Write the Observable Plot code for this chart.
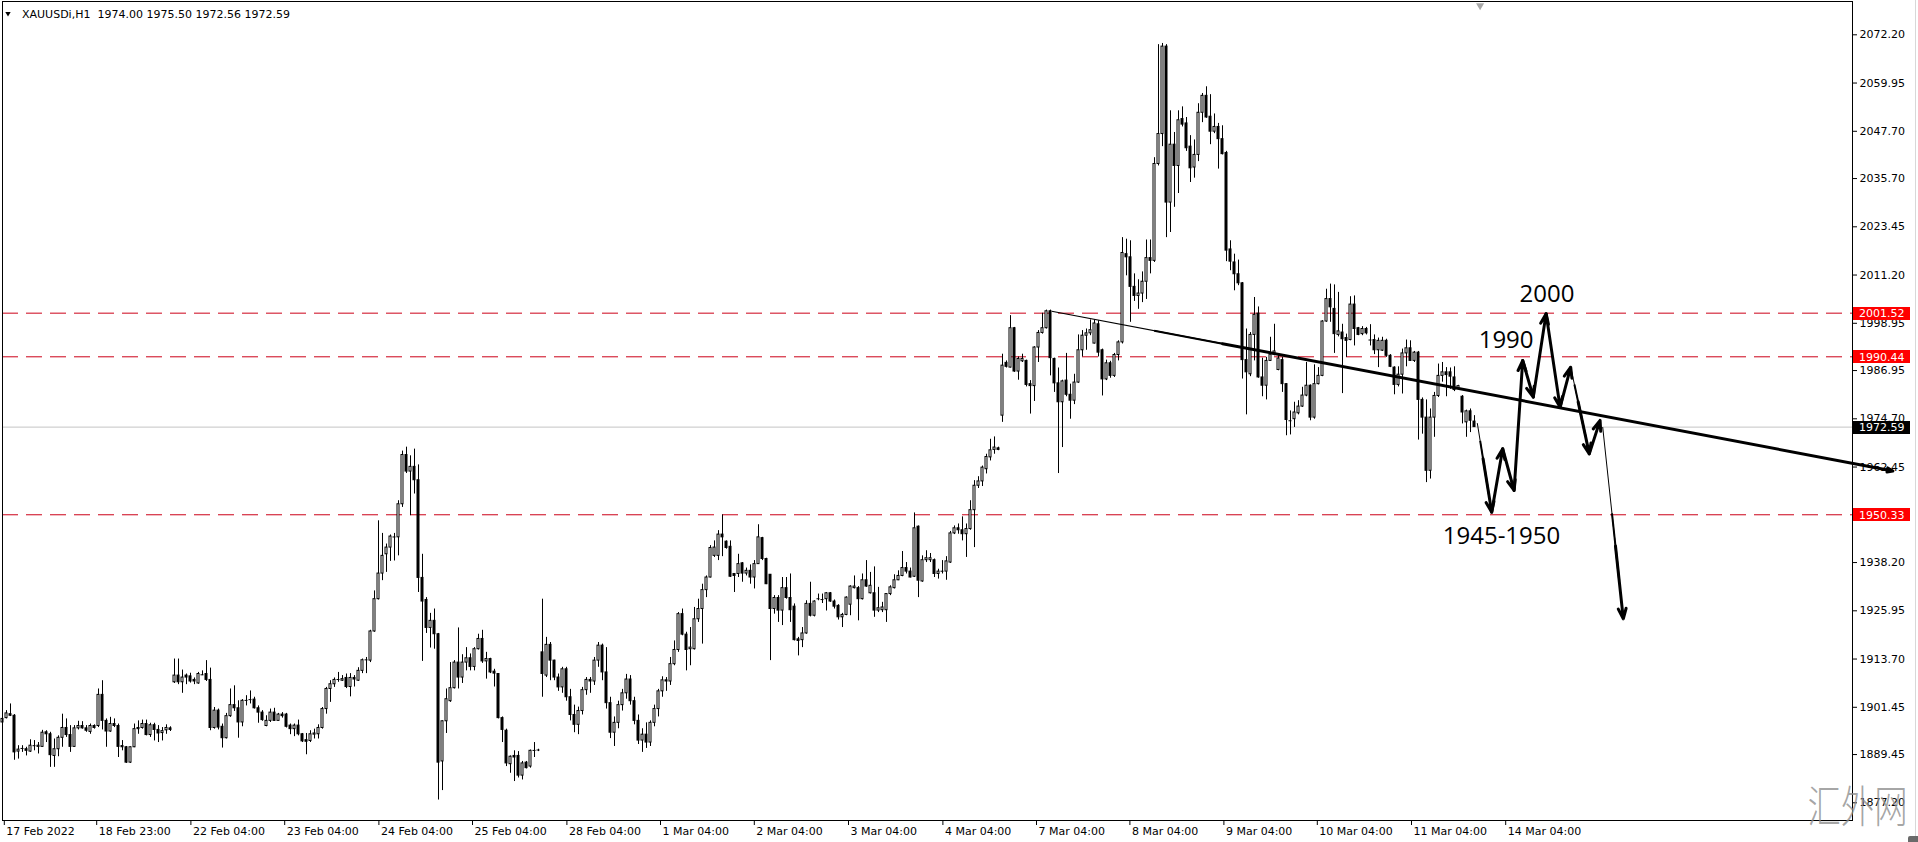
<!DOCTYPE html>
<html>
<head>
<meta charset="utf-8">
<script src="https://cdn.jsdelivr.net/npm/d3@7"></script>
<script src="https://cdn.jsdelivr.net/npm/@observablehq/plot@0.6"></script>
<style>
html,body{margin:0;padding:0;background:#fff;overflow:hidden;}
#chart{width:1918px;height:842px;}
</style>
</head>
<body>
<div id="chart"></div>
<script>
// ---------- data (hourly OHLC rows: open, high, low, close) ----------
const symbolName = "XAUUSDi,H1";
const headerValues = "1974.00 1975.50 1972.56 1972.59";

const week17Feb = [
[1897.6,1899.2,1897.0,1898.5],[1898.7,1900.6,1898.5,1899.9],[1899.7,1902.3,1899.1,1899.3],[1899.3,1899.6,1888.0,1890.0],
[1890.2,1891.7,1888.3,1890.7],[1890.9,1891.7,1890.0,1891.0],[1890.8,1891.3,1889.1,1890.4],[1890.2,1893.2,1890.0,1891.7],
[1891.6,1893.0,1890.4,1891.7],[1891.4,1892.5,1889.6,1891.7],[1891.4,1895.6,1891.3,1895.0],[1895.1,1895.5,1892.5,1894.6],
[1894.6,1895.1,1886.2,1889.3],[1889.1,1893.4,1886.2,1890.8],[1890.8,1894.2,1888.9,1893.7],[1893.7,1899.7,1891.3,1896.2],
[1896.2,1898.5,1893.8,1894.4],[1894.4,1896.8,1890.0,1891.4],[1891.4,1896.8,1891.3,1896.1],[1896.1,1897.9,1895.7,1896.7],
[1896.7,1897.8,1895.9,1896.1],[1896.1,1896.8,1895.1,1895.5],[1895.2,1897.2,1894.6,1896.7],[1896.7,1897.0,1895.9,1896.2],
[1896.7,1906.1,1896.3,1904.6],[1904.6,1908.2,1895.7,1898.0],[1898.0,1898.5,1891.3,1895.3],[1895.3,1898.9,1895.1,1897.2],
[1897.2,1898.5,1896.3,1896.7],[1896.7,1897.2,1888.7,1891.4],[1891.6,1893.0,1890.4,1891.3],[1891.3,1891.5,1887.2,1887.4],
[1887.4,1891.4,1887.2,1891.3],[1891.3,1897.2,1891.2,1895.9],[1895.9,1898.0,1894.6,1896.2],[1896.2,1898.2,1895.9,1897.2],
[1897.2,1898.2,1894.2,1894.4],[1894.4,1897.4,1893.8,1896.9],[1896.9,1897.4,1892.9,1895.7],[1895.7,1896.8,1892.5,1894.8],
[1894.9,1896.3,1892.9,1895.4],[1895.6,1897.0,1894.6,1896.2],[1896.1,1896.5,1895.3,1895.7]
];

const week22Feb = [
[1907.8,1913.7,1907.5,1909.5],[1909.5,1913.7,1907.2,1907.8],[1907.8,1910.9,1905.0,1909.0],[1909.5,1909.9,1907.2,1909.0],
[1909.3,1910.1,1907.6,1908.0],[1908.4,1908.9,1907.2,1908.0],[1907.5,1910.3,1907.3,1909.9],[1909.9,1910.7,1909.5,1909.7],
[1909.9,1913.3,1908.0,1908.4],[1908.4,1911.4,1895.5,1896.2],[1896.2,1901.4,1895.9,1900.6],[1900.6,1901.0,1895.7,1896.3],
[1896.5,1897.2,1891.1,1893.6],[1893.6,1899.9,1893.4,1899.2],[1899.2,1906.1,1898.9,1902.0],[1902.0,1906.9,1900.4,1901.2],
[1901.2,1903.1,1893.6,1897.6],[1897.6,1903.4,1896.5,1903.1],[1903.1,1904.4,1901.8,1903.2],[1903.2,1905.6,1902.3,1903.4],
[1903.4,1904.0,1901.0,1901.2],[1901.2,1901.8,1897.4,1900.1],[1900.1,1900.6,1897.9,1898.2],[1896.7,1899.3,1896.5,1898.0],
[1898.0,1901.0,1897.6,1900.1],[1900.1,1901.2,1897.9,1898.0],[1898.0,1899.9,1897.9,1899.6],[1899.6,1900.1,1898.7,1899.2],
[1899.6,1899.9,1896.2,1896.5],[1896.8,1897.2,1894.5,1895.9],[1895.9,1897.2,1894.0,1896.8],[1896.8,1898.2,1894.2,1894.6],
[1894.6,1894.8,1892.5,1892.8],[1893.1,1894.8,1889.4,1892.7],[1892.9,1895.5,1892.5,1894.6],[1894.5,1895.9,1893.4,1894.8],
[1894.6,1897.0,1893.4,1896.2],[1896.2,1901.4,1895.9,1901.0],[1901.0,1906.5,1899.7,1906.1],[1906.1,1908.2,1902.7,1907.3],
[1907.3,1908.9,1906.5,1908.4],[1908.4,1910.3,1907.8,1908.5],[1908.2,1909.5,1908.0,1908.6],[1908.9,1909.9,1906.2,1906.6],
[1906.6,1910.0,1904.1,1908.9],[1908.9,1909.5,1906.6,1908.5],[1908.2,1911.5,1908.0,1910.7],[1910.7,1913.7,1910.0,1913.4],
[1913.4,1914.1,1910.0,1913.5],[1913.3,1921.0,1912.8,1920.7],[1920.7,1931.0,1920.5,1928.9],[1928.9,1948.8,1928.7,1935.4],
[1935.4,1945.6,1933.6,1939.9],[1940.3,1942.9,1935.7,1942.0],[1942.0,1945.2,1938.5,1944.8],[1944.8,1945.6,1938.6,1944.7],
[1944.6,1953.9,1939.9,1953.0],[1953.0,1966.5,1952.2,1965.5],[1965.5,1967.5,1960.8,1961.3],[1961.3,1965.3,1950.1,1962.5],
[1962.5,1967.0,1955.6,1959.1],[1959.1,1963.0,1930.6,1934.3],[1934.3,1940.3,1913.1,1928.3],[1928.7,1929.3,1920.2,1921.6],
[1921.6,1925.3,1916.5,1923.4],[1923.4,1926.4,1916.2,1920.0],[1920.0,1920.2,1877.9,1887.4],[1887.7,1898.0,1880.3,1897.9],
[1897.9,1906.1,1894.8,1903.5],[1903.0,1912.8,1902.7,1906.3],[1906.3,1913.3,1906.1,1912.8],[1912.8,1921.6,1906.1,1909.0],
[1909.0,1914.8,1907.5,1912.8],[1912.8,1916.6,1910.7,1913.9],[1913.9,1915.0,1910.7,1911.7],[1911.7,1916.6,1910.7,1916.2],
[1916.2,1920.0,1916.0,1918.8],[1918.8,1921.0,1912.6,1913.1],[1913.1,1915.4,1908.6,1913.7],[1913.7,1913.9,1910.0,1910.3],
[1910.5,1911.1,1906.6,1910.0],[1909.9,1910.0,1898.5,1898.7],[1898.7,1899.0,1892.5,1895.7],[1895.5,1895.9,1886.4,1887.2],
[1887.0,1889.1,1884.7,1888.9],[1889.1,1890.4,1882.6,1888.7],[1889.1,1890.2,1883.5,1884.1],[1884.1,1887.7,1883.0,1887.2],
[1887.4,1887.7,1885.8,1886.0],[1886.4,1890.6,1886.0,1890.4],[1890.4,1892.5,1888.7,1890.5],[1890.5,1890.8,1890.2,1890.6]
];

const week28Feb = [
[1915.4,1928.9,1904.0,1909.9],[1909.5,1919.2,1909.0,1917.3],[1917.3,1917.9,1908.2,1913.3],[1913.3,1913.4,1908.2,1909.0],
[1909.0,1909.9,1905.5,1906.5],[1906.5,1911.6,1905.0,1911.1],[1911.1,1911.6,1903.0,1904.0],[1904.0,1906.0,1898.0,1899.5],
[1899.5,1902.0,1895.0,1897.0],[1897.0,1901.5,1894.5,1900.5],[1900.5,1906.5,1899.5,1905.8],[1905.8,1909.0,1904.5,1908.4],
[1908.4,1909.0,1905.0,1908.0],[1908.0,1914.1,1907.0,1913.3],[1913.3,1917.9,1911.6,1917.1],[1917.1,1917.5,1908.2,1910.3],
[1910.3,1916.6,1901.0,1902.5],[1902.5,1904.0,1893.5,1895.0],[1895.0,1899.0,1891.5,1897.5],[1897.5,1903.0,1896.0,1902.0],
[1902.0,1906.0,1900.5,1905.0],[1905.0,1909.8,1903.5,1908.5],[1908.5,1909.5,1902.0,1903.0],[1903.0,1904.0,1897.0,1898.0],
[1898.0,1899.5,1892.0,1893.0],[1893.0,1896.0,1890.0,1894.5],[1894.5,1897.5,1891.0,1892.5],[1892.5,1898.0,1891.5,1897.5],
[1897.5,1902.0,1896.5,1901.0],[1901.0,1906.0,1899.0,1905.5],[1905.5,1909.2,1904.0,1908.3],[1908.3,1909.0,1905.5,1908.0],
[1908.0,1914.1,1907.0,1912.4],[1912.4,1918.3,1912.0,1916.0],[1916.0,1925.5,1915.4,1925.1],[1925.1,1926.4,1919.6,1919.9],
[1919.9,1920.5,1910.7,1916.0],[1916.2,1921.7,1912.0,1916.6],[1916.2,1926.8,1916.0,1923.8],[1923.8,1928.9,1923.0,1926.4],
[1926.4,1932.7,1917.5,1931.2],[1931.2,1934.8,1929.3,1934.4],[1934.4,1942.5,1934.3,1941.9],[1939.9,1943.7,1939.5,1942.0],
[1939.9,1946.3,1938.7,1945.3],[1945.3,1950.3,1939.7,1944.6],[1943.5,1943.7,1941.6,1941.9],[1942.2,1943.7,1934.4,1934.6],
[1935.3,1935.4,1930.6,1934.8],[1935.3,1940.3,1934.4,1937.8],[1938.0,1938.2,1933.2,1935.4],[1935.4,1936.8,1934.8,1936.1],
[1936.1,1937.6,1932.7,1934.4],[1934.4,1938.7,1931.5,1937.8],[1937.8,1947.8,1937.8,1944.6],[1944.4,1944.6,1938.7,1939.1],
[1939.1,1939.3,1932.6,1932.7],[1935.1,1935.1,1913.3,1926.4],[1926.4,1929.8,1925.1,1929.2],[1929.2,1929.8,1923.0,1926.0],
[1926.0,1934.4,1922.2,1931.7],[1931.7,1934.4,1928.9,1929.2],[1929.2,1935.3,1923.0,1926.1],[1927.0,1927.7,1918.3,1918.5],
[1918.7,1919.2,1914.5,1918.3],[1918.5,1921.7,1916.6,1920.2],[1920.2,1928.5,1920.0,1927.7],[1927.7,1933.2,1924.4,1924.7],
[1924.7,1928.5,1924.4,1928.3],[1928.8,1930.2,1928.5,1929.0],[1929.0,1930.2,1927.8,1928.8],[1928.9,1930.6,1925.9,1930.4],
[1930.4,1930.6,1928.1,1928.3],[1928.3,1928.7,1926.4,1927.0],[1927.2,1927.5,1923.6,1924.3],[1924.3,1925.3,1921.7,1924.9],
[1924.9,1929.5,1924.7,1929.3],[1927.5,1932.3,1924.7,1932.1],[1931.7,1934.8,1931.5,1932.1],[1931.7,1932.1,1923.4,1928.9],
[1928.9,1935.3,1928.7,1933.7],[1933.7,1938.7,1931.9,1932.1],[1930.4,1935.7,1930.2,1932.3],[1930.4,1937.1,1924.3,1926.0],
[1926.0,1931.9,1925.5,1926.6],[1926.1,1928.1,1925.5,1926.8],[1926.1,1930.2,1923.0,1930.2],[1930.2,1932.3,1929.8,1931.9],
[1931.7,1935.1,1931.5,1933.7],[1933.7,1936.1,1933.6,1934.8],[1934.8,1941.0,1934.6,1936.8],[1936.8,1938.2,1935.3,1935.9],
[1935.9,1936.8,1934.3,1934.4],[1934.6,1950.8,1934.4,1946.9],[1947.3,1947.5,1929.3,1933.6],[1933.4,1939.9,1933.2,1938.8],
[1938.8,1941.2,1938.2,1939.3],[1938.8,1940.5,1938.2,1939.3],[1938.8,1939.1,1934.4,1935.3],[1935.3,1936.5,1934.0,1935.9],
[1935.9,1938.7,1935.3,1936.0],[1935.9,1939.7,1933.7,1938.5],[1938.2,1946.1,1938.0,1945.6],[1945.6,1947.5,1945.3,1946.9],
[1946.9,1948.0,1945.4,1946.4],[1946.4,1949.8,1943.7,1945.4],[1945.4,1948.0,1939.5,1946.7],[1946.7,1953.9,1946.4,1951.5],
[1951.5,1959.0,1942.0,1957.7],[1957.7,1960.0,1957.0,1958.8],[1958.8,1962.7,1957.5,1962.3],[1961.9,1965.7,1960.7,1965.0],
[1964.9,1969.5,1964.0,1966.7],[1966.8,1970.1,1965.7,1967.4],[1967.2,1967.5,1966.6,1966.8]
];

const week7Mar = [
[1975.5,1991.1,1973.8,1988.2],[1988.9,1989.4,1987.6,1987.9],[1987.7,2000.9,1987.6,1997.7],[1997.7,1997.9,1986.5,1986.7],
[1986.7,1990.4,1984.5,1989.9],[1989.3,1991.1,1989.0,1989.9],[1989.4,1989.6,1982.8,1983.3],[1983.5,1984.4,1975.9,1983.0],
[1983.0,1993.0,1979.1,1992.8],[1992.8,1997.1,1989.0,1996.5],[1996.5,2001.5,1996.2,1997.7],[1997.7,2002.3,1997.5,2002.0],
[2002.0,2002.3,1985.6,1990.1],[1989.9,1990.1,1981.4,1983.7],[1983.7,1987.6,1960.8,1978.9],[1978.9,1984.5,1967.4,1984.2],
[1984.4,1991.3,1980.3,1980.8],[1980.8,1983.5,1974.6,1979.3],[1979.3,1986.0,1978.3,1983.9],[1983.9,1996.0,1983.7,1992.1],
[1992.1,1997.1,1990.4,1995.8],[1995.8,1997.5,1992.1,1996.4],[1996.4,1999.8,1995.8,1997.2],[1993.8,1999.8,1993.7,1998.9],
[1998.7,1999.6,1990.4,1991.5],[1992.1,1992.4,1980.5,1984.7],[1984.7,1989.6,1984.4,1988.8],[1988.8,1989.3,1985.0,1985.6],
[1985.6,1991.3,1985.2,1990.9],[1990.9,1994.5,1989.4,1994.1],[1994.1,2020.7,1993.7,2016.8],[2016.5,2020.3,2011.0,2015.7],
[2015.7,2019.9,1999.2,2008.2],[2008.2,2011.5,2004.5,2005.9],[2005.9,2010.0,2002.5,2006.5],[2006.5,2012.0,2004.2,2009.5],
[2009.5,2020.1,2005.0,2015.5],[2015.5,2020.1,2011.5,2014.8],[2014.8,2041.0,2014.4,2039.4],[2039.4,2069.7,2038.9,2047.0],
[2047.0,2070.0,2043.8,2069.2],[2069.2,2069.7,2020.7,2029.6],[2029.6,2052.9,2022.0,2044.3],[2044.3,2047.4,2028.4,2038.9],
[2038.9,2052.9,2031.9,2050.5],[2050.8,2053.9,2048.8,2049.4],[2049.7,2051.2,2042.6,2043.4],[2043.8,2046.6,2034.7,2038.3],
[2038.5,2045.5,2035.8,2041.7],[2041.7,2054.7,2040.0,2052.4],[2052.4,2057.3,2049.9,2056.7],[2056.7,2059.0,2051.0,2051.2],
[2051.4,2057.0,2044.3,2047.6],[2047.6,2052.1,2047.1,2048.8],[2048.8,2049.7,2038.1,2045.7],[2045.7,2049.1,2041.7,2041.9],
[2042.2,2042.6,2014.6,2017.4],[2017.7,2019.9,2012.3,2014.6],[2014.4,2016.5,2007.2,2011.4],[2011.4,2015.0,2008.5,2009.1],
[2009.1,2009.3,1984.8,1989.6],[1989.6,1997.5,1975.7,1986.5],[1986.0,1996.6,1985.4,1996.0],[1996.0,2005.5,1989.4,2001.1],
[2001.4,2003.1,1985.0,1985.2],[1985.2,1990.1,1980.3,1983.1],[1983.1,1990.3,1979.5,1989.4],[1989.4,1995.4,1989.3,1991.0],
[1991.0,1998.7,1990.7,1991.8],[1987.1,1991.1,1986.9,1990.0],[1989.6,1990.3,1981.4,1983.5],[1983.5,1983.6,1970.4,1974.4],
[1974.4,1976.7,1970.6,1974.2],[1974.6,1978.9,1972.5,1976.3],[1976.1,1979.3,1975.7,1977.8],[1977.8,1982.7,1977.6,1980.6],
[1980.6,1989.0,1980.3,1983.1],[1983.1,1983.3,1974.2,1975.0],[1975.0,1988.4,1974.6,1983.5],[1983.5,1987.7,1983.3,1985.6],
[1985.6,1999.6,1985.4,1999.4],[1999.4,2007.6,1999.2,2005.1],[2005.1,2008.9,1999.2,2003.0],[2002.6,2008.7,1991.3,1996.2],
[1996.0,2006.8,1995.5,1996.9],[1996.6,1998.7,1981.1,1994.9],[1995.2,1996.2,1990.3,1994.5],[1994.7,2005.7,1994.5,2003.7],
[2003.7,2005.9,1993.2,1997.5],[1997.7,1997.9,1995.8,1996.0],[1996.2,1998.1,1995.8,1997.5],[1997.5,1997.9,1996.0,1996.4],
[1994.9,1998.6,1993.2,1994.7],[1994.7,1996.0,1991.0,1992.1],[1992.1,1995.2,1987.7,1994.5],[1992.0,1995.4,1991.8,1994.5],
[1994.5,1994.9,1990.3,1990.7],[1990.7,1991.0,1987.7,1987.9],[1987.7,1987.9,1980.8,1983.3],[1983.3,1987.9,1982.8,1985.9],
[1985.9,1992.4,1981.0,1991.3],[1991.3,1994.7,1987.9,1992.6],[1992.6,1994.5,1989.3,1989.4],[1989.4,1991.8,1989.0,1991.5],
[1991.5,1991.8,1969.3,1979.5],[1979.5,1980.0,1970.8,1975.0],[1975.0,1979.5,1958.5,1961.5],[1961.5,1977.2,1959.4,1975.0],
[1975.0,1981.4,1970.0,1980.5],[1980.5,1988.6,1980.1,1985.6],[1985.6,1989.0,1984.0,1986.5],[1986.5,1987.7,1980.3,1985.8],
[1986.5,1987.6,1982.2,1985.4],[1985.2,1987.9,1981.6,1982.0],[1982.5,1983.2,1982.3,1983.0],[1980.3,1980.6,1973.4,1976.3],
[1973.8,1976.9,1970.0,1976.6],[1976.6,1977.2,1971.2,1974.2],[1974.0,1975.5,1972.56,1972.59]
];

// axis ticks
const priceTicks = [2072.20,2059.95,2047.70,2035.70,2023.45,2011.20,1998.95,1986.95,1974.70,1962.45,1950.20,1938.20,1925.95,1913.70,1901.45,1889.45,1877.20];
const timeTickBars = [0.45,23.55,47.1,70.55,94.1,117.5,141.1,164.5,187.95,211.5,235.1,258.5,281.85,305.35,328.7,352.25,375.8];
const timeTickLabels = ["17 Feb 2022","18 Feb 23:00","22 Feb 04:00","23 Feb 04:00","24 Feb 04:00","25 Feb 04:00","28 Feb 04:00","1 Mar 04:00","2 Mar 04:00","3 Mar 04:00","4 Mar 04:00","7 Mar 04:00","8 Mar 04:00","9 Mar 04:00","10 Mar 04:00","11 Mar 04:00","14 Mar 04:00"];

// horizontal levels
const levelValues = [2001.52, 1990.44, 1950.33];
const lastPrice = 1972.59;
const shiftBar = 369.4;

// trend line (bar, price): thin start, thick start, end
const trendBars = [262.3, 305.0, 472.6];
const trendPrices = [2002.0, 1993.78, 1961.45];

// forecast zig-zag (bar, price)
const pathBars = [368.7, 372.3, 375.05, 377.9, 380.05, 382.7, 385.9, 389.4, 392.05, 396.7, 399.4];
const pathPrices = [1973.6, 1951.0, 1967.1, 1956.5, 1989.5, 1980.2, 2001.4, 1977.6, 1987.8, 1965.8, 1974.3];
const dropBars = [400.05, 405.2];
const dropPrices = [1972.6, 1923.9];

// annotations
const noteTexts = ["2000", "1990", "1945-1950"];
const noteBars = [386.1, 375.9, 374.75];
const notePrices = [2006.26, 1994.71, 1944.82];

const watermark = "汇外网";

// ---------- build ----------
const bars = [...week17Feb, ...week22Feb, ...week28Feb, ...week7Mar].map(([o,h,l,c], i) => ({i,o,h,l,c}));
const up = bars.filter(d => d.c - d.o >= 0.25);
const down = bars.filter(d => d.o - d.c >= 0.25);
const flat = bars.filter(d => Math.abs(d.c - d.o) < 0.25);
const tickLabel = new Map(timeTickBars.map((b, k) => [b, timeTickLabels[k]]));

function lerp(a, b, t) { return a + (b - a) * t; }
const segs = [];
for (let k = 0; k < pathBars.length - 1; k++) {
  segs.push({x1: pathBars[k], y1: pathPrices[k], x2: pathBars[k+1], y2: pathPrices[k+1], taper: k === 0 || k === 8});
}
const solidSegs = segs.filter(s => !s.taper);
const taperSegs = segs.filter(s => s.taper);
taperSegs.push({x1: dropBars[0], y1: dropPrices[0], x2: dropBars[1], y2: dropPrices[1], taper: true, long: true});
const thinParts = taperSegs.map(s => ({x1: s.x1, y1: s.y1, x2: lerp(s.x1, s.x2, 0.7), y2: lerp(s.y1, s.y2, 0.7)}));
const midParts = taperSegs.map(s => { const t = s.long ? 0.45 : 0.2; return {x1: lerp(s.x1, s.x2, t), y1: lerp(s.y1, s.y2, t), x2: lerp(s.x1, s.x2, 0.8), y2: lerp(s.y1, s.y2, 0.8)}; });
const thickParts = taperSegs.map(s => { const t = s.long ? 0.62 : 0.4; return {x1: lerp(s.x1, s.x2, t), y1: lerp(s.y1, s.y2, t), x2: s.x2, y2: s.y2}; });

const notes = noteTexts.map((t, k) => ({t, b: noteBars[k], p: notePrices[k]}));
const trendThin = [{x1: trendBars[0], y1: trendPrices[0], x2: trendBars[1], y2: trendPrices[1]}];
const trendMid = [{x1: lerp(trendBars[0], trendBars[1], 0.6), y1: lerp(trendPrices[0], trendPrices[1], 0.6), x2: trendBars[1], y2: trendPrices[1]}];
const trendThick = [{x1: trendBars[1], y1: trendPrices[1], x2: trendBars[2], y2: trendPrices[2]}];

const chart = Plot.plot({
  width: 1918,
  height: 842,
  marginLeft: 2,
  marginRight: 66,
  marginTop: 1,
  marginBottom: 22,
  x: {type: "linear", domain: [0, 400], range: [2, 1602]},
  y: {type: "linear", domain: [1877.2, 2072.2], range: [802.3, 34.3]},
  style: {fontFamily: "DejaVu Sans", fontSize: "11px", background: "#ffffff", color: "#000", overflow: "visible"},
  marks: [
    Plot.ruleY([lastPrice], {stroke: "#c4c4c4"}),
    Plot.ruleY(levelValues, {stroke: "#cc0018", strokeDasharray: "16,8"}),
    Plot.ruleX(bars, {x: "i", y1: "l", y2: "h", stroke: "#000"}),
    Plot.rect(up, {x1: d => d.i - 0.25, x2: d => d.i + 0.25, y1: "o", y2: "c", fill: "#fff", stroke: "#000"}),
    Plot.rect(down, {x1: d => d.i - 0.25, x2: d => d.i + 0.25, y1: "o", y2: "c", fill: "#000", stroke: "#000"}),
    Plot.ruleY(flat, {x1: d => d.i - 0.375, x2: d => d.i + 0.375, y: "c", stroke: "#000"}),
    // trend line
    Plot.link(trendThin, {x1: "x1", y1: "y1", x2: "x2", y2: "y2", stroke: "#000", strokeWidth: 1.2}),
    Plot.link(trendMid, {x1: "x1", y1: "y1", x2: "x2", y2: "y2", stroke: "#000", strokeWidth: 2}),
    Plot.arrow(trendThick, {x1: "x1", y1: "y1", x2: "x2", y2: "y2", stroke: "#000", strokeWidth: 3, headLength: 3, headAngle: 40}),
    // forecast arrows
    Plot.arrow(solidSegs, {x1: "x1", y1: "y1", x2: "x2", y2: "y2", stroke: "#000", strokeWidth: 3, headLength: 5.5, headAngle: 42}),
    Plot.link(thinParts, {x1: "x1", y1: "y1", x2: "x2", y2: "y2", stroke: "#000", strokeWidth: 1}),
    Plot.link(midParts, {x1: "x1", y1: "y1", x2: "x2", y2: "y2", stroke: "#000", strokeWidth: 2}),
    Plot.arrow(thickParts, {x1: "x1", y1: "y1", x2: "x2", y2: "y2", stroke: "#000", strokeWidth: 3, headLength: 5.5, headAngle: 42}),
    Plot.text(notes, {x: "b", y: "p", text: "t", fontFamily: "Open Sans", fontSize: 24, fill: "#000", textAnchor: "middle", lineAnchor: "middle"}),
    // axes
    Plot.axisY(priceTicks, {anchor: "right", tickSize: 4, tickPadding: 3, tickFormat: d => d.toFixed(2), label: null, fontSize: 11}),
    Plot.axisX(timeTickBars, {anchor: "bottom", tickSize: 5, tickFormat: () => "", label: null}),
    Plot.text(timeTickBars, {x: d => d, text: d => tickLabel.get(d), frameAnchor: "bottom", textAnchor: "start", lineAnchor: "middle", dx: 2, dy: 10.5, fontSize: 11}),
    Plot.frame({stroke: "#000"}),
    // header
    Plot.dot([0], {frameAnchor: "top-left", dx: 5.5, dy: 12, symbol: "triangle", rotate: 180, r: 2, fill: "#000", stroke: null}),
    Plot.text([symbolName], {frameAnchor: "top-left", dx: 19.5, dy: 12.5, textAnchor: "start", lineAnchor: "middle", fontSize: 11}),
    Plot.text([headerValues], {frameAnchor: "top-left", dx: 95, dy: 12.5, textAnchor: "start", lineAnchor: "middle", fontSize: 11}),
    Plot.dot([shiftBar], {x: d => d, frameAnchor: "top", dy: 4, symbol: "triangle", rotate: 180, r: 3, fill: "#a8a8a8", stroke: null}),
    Plot.text([watermark], {frameAnchor: "bottom-right", dx: 5, dy: -12, textAnchor: "middle", lineAnchor: "middle", fontFamily: "Noto Sans CJK SC", fontWeight: 300, fontSize: 44, fill: "#8e8e8e", fillOpacity: 0.8})
  ]
});

document.getElementById("chart").append(chart);

// price labels on the axis (boxes)
const svg = d3.select(chart);
const ys = chart.scale("y");
const axisX0 = 1918 - 66 + 1;
const boxes = [[2001.52, "#ff0000"], [1990.44, "#ff0000"], [lastPrice, "#000000"], [1950.33, "#ff0000"]];
for (const [v, col] of boxes) {
  const yy = ys.apply(v);
  svg.append("rect").attr("x", axisX0).attr("y", Math.round(yy - 6)).attr("width", 57).attr("height", 13).attr("fill", col);
  svg.append("text").attr("x", axisX0 + 6).attr("y", yy + 0.5).attr("dy", "0.36em").attr("text-anchor", "start")
    .attr("fill", "#fff").attr("font-family", "DejaVu Sans").attr("font-size", 11).text(v.toFixed(2));
}
svg.selectAll("text").filter(function() { return this.textContent === watermark; })
  .attr("textLength", 100).attr("lengthAdjust", "spacingAndGlyphs");
// window edge
svg.append("line").attr("x1", 1915.5).attr("x2", 1915.5).attr("y1", 0).attr("y2", 842).attr("stroke", "#d8d8d8");
svg.append("rect").attr("x", 1908).attr("y", 836).attr("width", 12).attr("height", 8).attr("rx", 2).attr("fill", "#6a6a6a");
</script>
</body>
</html>
